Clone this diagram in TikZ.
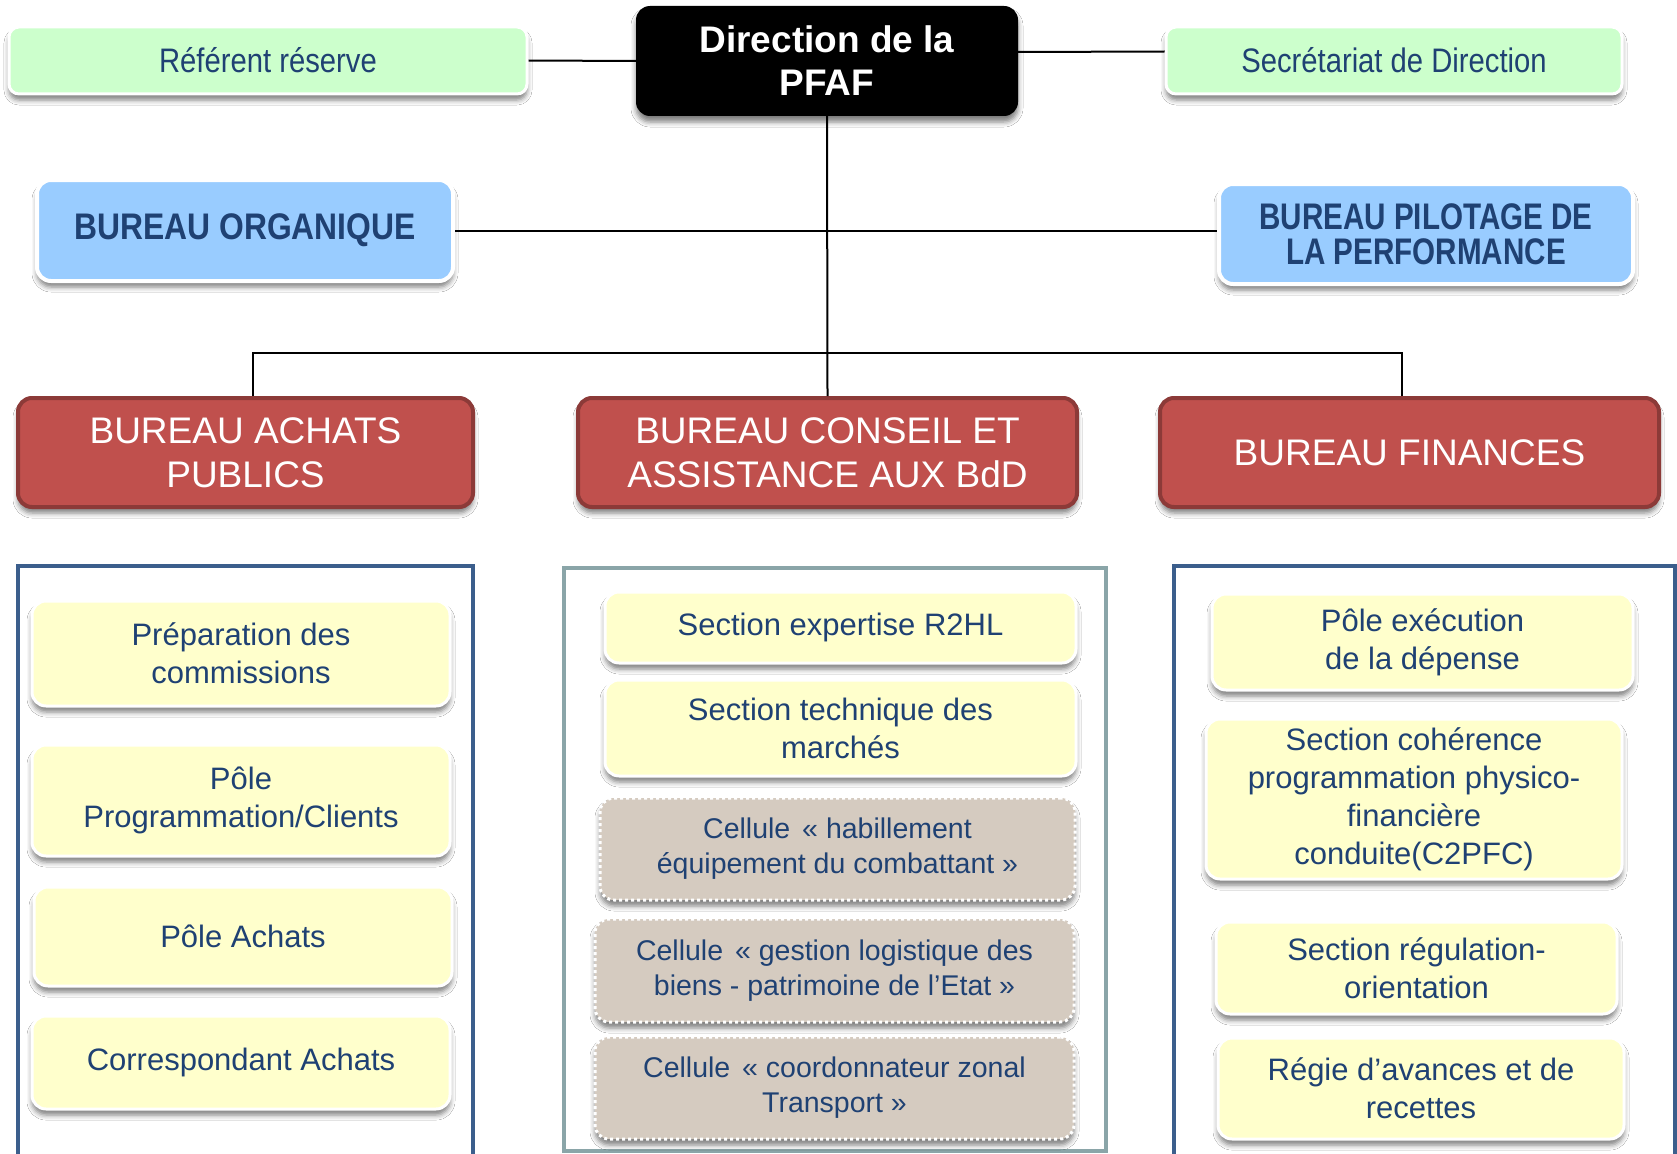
\documentclass[tikz,border=0pt]{standalone}
\usepackage{fontspec}
\setmainfont{Liberation Sans}
\newfontfamily\narrowf[FakeStretch=0.8]{Liberation Sans}
\newfontfamily\narrowg[FakeStretch=0.86]{Liberation Sans}
\usetikzlibrary{shadows.blur}
\definecolor{txtblue}{HTML}{1F4173}
\definecolor{greenfill}{HTML}{CCFFCC}
\definecolor{bluefill}{HTML}{99CCFF}
\definecolor{yelfill}{HTML}{FFFFCC}
\definecolor{beige}{HTML}{D5CBC0}
\definecolor{redfill}{HTML}{C0504D}
\definecolor{redborder}{HTML}{8C3A38}
\definecolor{contblue}{HTML}{3B5E8C}
\definecolor{contgray}{HTML}{8AA5A8}
\tikzset{
  shd/.style={blur shadow={shadow xshift=0pt, shadow yshift=-6pt, shadow blur radius=5pt, shadow opacity=50}},
  base/.style={rectangle, inner sep=0pt, align=center, shd},
  greenbox/.style={base, fill=greenfill, draw=white, line width=3pt, rounded corners=10pt, text=txtblue,
     font=\narrowg\fontsize{34}{40}\selectfont},
  bluebox/.style={base, fill=bluefill, draw=white, line width=4pt, rounded corners=14pt, text=txtblue,
     font=\narrowf\bfseries\fontsize{37}{35}\selectfont},
  redbox/.style={base, fill=redfill, draw=redborder, line width=4pt, rounded corners=14pt, text=white,
     font=\fontsize{37}{44}\selectfont},
  yelbox/.style={base, fill=yelfill, draw=white, line width=3pt, rounded corners=14pt, text=txtblue,
     font=\fontsize{31}{38}\selectfont},
  cellbox/.style={base, fill=beige, draw=white, line width=3pt, dash pattern=on 3pt off 3pt, rounded corners=14pt, text=txtblue,
     font=\fontsize{28.5}{35}\selectfont},
  conn/.style={draw=black, line width=2pt},
  cont/.style={line width=4pt}
}
\begin{document}
\begin{tikzpicture}[x=1pt,y=-1pt]
\useasboundingbox[fill=white] (0,0) rectangle (1677,1153);

% containers
\draw[cont, draw=contblue] (18,1170) -- (18,566) -- (473,566) -- (473,1170);
\draw[cont, draw=contgray] (564,568) rectangle (1106,1151);
\draw[cont, draw=contblue] (1174,1170) -- (1174,566) -- (1675,566) -- (1675,1170);

% top level
\node[base, fill=black, rounded corners=14pt, minimum width=382pt, minimum height=110pt, text=white,
      font=\bfseries\fontsize{37}{43}\selectfont] (dir) at (827,61) {Direction de la\\PFAF};
\node[greenbox, minimum width=518pt, minimum height=67pt] (ref) at (268,60.5) {Référent réserve};
\node[greenbox, minimum width=456pt, minimum height=67pt] (sec) at (1394,60.5) {Secrétariat de Direction};
\node[bluebox, minimum width=416pt, minimum height=101pt, font=\narrowg\bfseries\fontsize{37}{35}\selectfont] (org) at (245,230.5) {BUREAU ORGANIQUE};
\node[bluebox, minimum width=414pt, minimum height=100pt] (pil) at (1426,234) {BUREAU PILOTAGE DE\\LA PERFORMANCE};

\node[redbox, minimum width=455pt, minimum height=109pt] (ach) at (245.5,452.5) {BUREAU ACHATS\\PUBLICS};
\node[redbox, minimum width=499pt, minimum height=109pt] (cons) at (827.5,452.5) {BUREAU CONSEIL ET\\ASSISTANCE AUX BdD};
\node[redbox, minimum width=499pt, minimum height=109pt] (fin) at (1409.5,452.5) {BUREAU FINANCES};

% connectors
\draw[conn] (ref.east) -- (dir.west);
\draw[conn] ([yshift=9pt]dir.east) -- ([yshift=9pt]sec.west -| sec.west);
\draw[conn] (org.east) -- (org.east -| pil.west);
\draw[conn] (dir.south) -- (cons.north);
\coordinate (busL) at (253,353);
\coordinate (busR) at (1402,353);
\draw[conn] (ach.north -| busL) -- (busL) -- (busR) -- (fin.north -| busR);

% left column
\node[yelbox, minimum width=418pt, minimum height=105pt] (l1) at (241,653.5) {Préparation des\\commissions};
\node[yelbox, minimum width=418pt, minimum height=111pt] (l2) at (241,800.5) {Pôle\\Programmation/Clients};
\node[yelbox, minimum width=418pt, minimum height=99pt] (l3) at (243,936.5) {Pôle Achats};
\node[yelbox, minimum width=418pt, minimum height=93pt] (l4) at (241,1062.5) {Correspondant Achats};

% middle column
\node[yelbox, minimum width=471pt, minimum height=71pt] (m1) at (840.5,627.5) {Section expertise R2HL};
\node[yelbox, minimum width=471pt, minimum height=96pt] (m2) at (840.5,728) {Section technique des\\marchés};
\node[cellbox, minimum width=475pt, minimum height=102pt] (m3) at (837.5,849) {Cellule\hspace{4pt} « habillement\\équipement du combattant »};
\node[cellbox, minimum width=479pt, minimum height=103pt] (m4) at (834.5,970.5) {Cellule\hspace{4pt} « gestion logistique des\\biens - patrimoine de l’Etat »};
\node[cellbox, minimum width=479pt, minimum height=102pt] (m5) at (834.5,1088) {Cellule\hspace{4pt} « coordonnateur zonal\\Transport »};

% right column
\node[yelbox, minimum width=421pt, minimum height=96pt] (r1) at (1422.5,642) {Pôle exécution\\de la dépense};
\node[yelbox, minimum width=416pt, minimum height=160pt] (r2) at (1414,799) {Section cohérence\\programmation physico-\\financière\\conduite(C2PFC)};
\node[yelbox, minimum width=401pt, minimum height=92pt] (r3) at (1416.5,968) {Section régulation-\\orientation};
\node[yelbox, minimum width=406pt, minimum height=101pt] (r4) at (1421,1088.5) {Régie d’avances et de\\recettes};
\end{tikzpicture}
\end{document}
